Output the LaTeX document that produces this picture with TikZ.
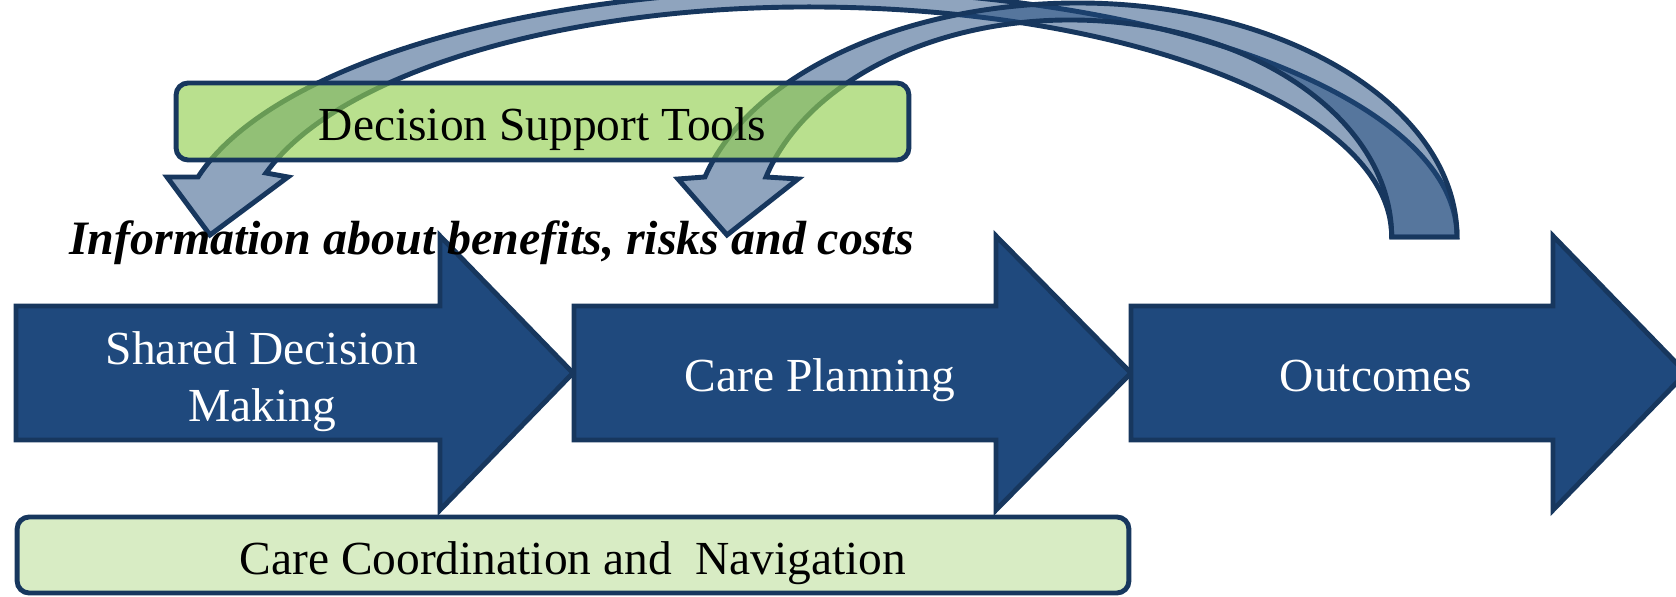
\documentclass[tikz,border=0pt]{standalone}
\usepackage{fontspec}
\setmainfont{Liberation Serif}
\definecolor{navy}{RGB}{23,55,94}
\definecolor{arrowblue}{RGB}{31,73,125}
\definecolor{dstgreen}{RGB}{148,208,81}
\definecolor{ccgreen}{RGB}{216,236,196}
\begin{document}
\begin{tikzpicture}[x=0.02cm,y=0.02cm,
  outline/.style={draw=navy, line width=2.8pt, line join=miter},
  flowarrow/.style={outline, fill=arrowblue},
  curvearrow/.style={outline, fill=arrowblue, fill opacity=0.5, draw opacity=1},
  roundbox/.style={draw=navy, line width=2.8pt, rounded corners=0.24cm, inner sep=0pt,
    font=\fontsize{27}{32.4}\selectfont, text=black, text height=27pt, text depth=4.9pt},
  lbl/.style={font=\fontsize{27}{32.4}\selectfont, text=white, inner sep=0pt, align=center},
  infotext/.style={font=\fontsize{27.3}{32}\selectfont\bfseries\itshape, text=black, inner sep=0pt}
]
\useasboundingbox (0,0) rectangle (1676,597);

% main flow arrows
\draw[flowarrow] (16,157) -- (16,291) -- (440,291) -- (440,361) -- (573,224) -- (440,87) -- (440,157) -- cycle;
\draw[flowarrow] (574,157) -- (574,291) -- (996,291) -- (996,361) -- (1131,224) -- (996,87) -- (996,157) -- cycle;
\draw[flowarrow] (1131,157) -- (1131,291) -- (1553,291) -- (1553,361) -- (1686,224) -- (1553,87) -- (1553,157) -- cycle;

% care coordination box
\node[roundbox, fill=ccgreen, minimum width=22.24cm, minimum height=1.52cm] (cc) at (573,42) {Care Coordination and\ \ Navigation};

% curved arrow to shared decision making
\path[curvearrow] (1457,360)
  arc[start angle=0, end angle=90, x radius=642, y radius=247]
  arc[start angle=90, end angle=165.94, x radius=636, y radius=247]
  -- (167,420) -- (210,362) -- (288,420) -- (266,424)
  arc[start angle=163.85, end angle=90, x radius=565, y radius=230]
  arc[start angle=90, end angle=0, x radius=583, y radius=230]
  -- cycle;
% curved arrow to care planning
\path[curvearrow] (1457,360)
  arc[start angle=0, end angle=90, x radius=379, y radius=234]
  arc[start angle=90, end angle=165.14, x radius=386, y radius=234]
  -- (678,418) -- (727,362) -- (798,418) -- (766,420)
  arc[start angle=163.95, end angle=90, x radius=316, y radius=217]
  arc[start angle=90, end angle=0, x radius=322, y radius=217]
  -- cycle;

% decision support tools box
\node[roundbox, fill=dstgreen, fill opacity=0.65, text opacity=1, minimum width=14.66cm, minimum height=1.54cm] (dst) at (542.5,475.5) {Decision Support Tools};

% texts
\node[infotext, anchor=base] (info) at (491.5,342) {Information about benefits, risks and costs};
\node[lbl, anchor=center] (sdm) at (262,215) {Shared Decision\\Making};
\node[lbl, anchor=base] (cp) at (820,205) {Care Planning};
\node[lbl, anchor=base] (out) at (1376,205) {Outcomes};
\end{tikzpicture}
\end{document}
